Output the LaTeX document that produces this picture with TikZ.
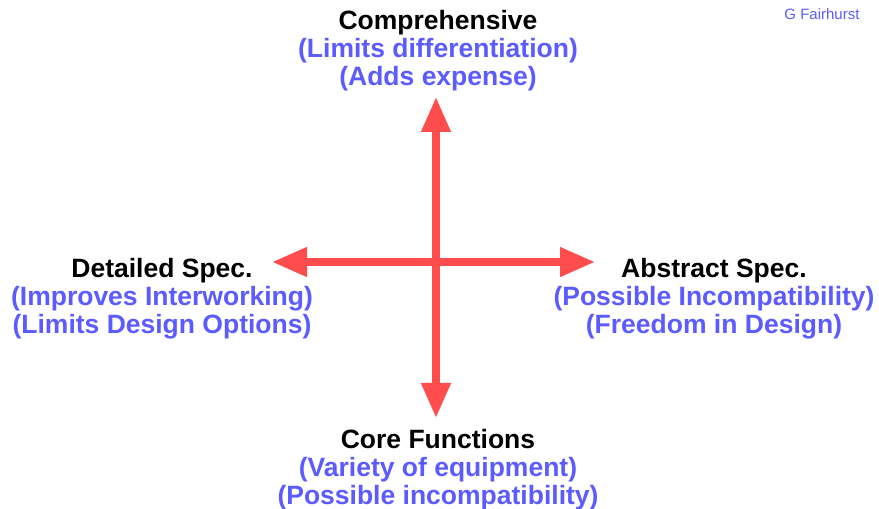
\documentclass[tikz,border=0pt]{standalone}
\usepackage{fontspec}
\setmainfont{Liberation Sans}
\usepackage{xcolor}
\definecolor{cArrow}{HTML}{FF4D4D}
\definecolor{cNote}{HTML}{5B5BFF}
\usetikzlibrary{positioning,arrows.meta}
\tikzset{
  node-label/.style={align=center,inner sep=0pt,
    font=\fontsize{26.5}{28}\selectfont\bfseries},
  node-credit/.style={inner sep=0pt,text=cNote,
    font=\fontsize{15}{18}\selectfont},
  arrow/.style={-{Triangle[length=35pt,width=28pt]},line width=7.5pt,draw=cArrow},
}
\newcommand{\note}[1]{\textcolor{cNote}{#1}}

\begin{document}
\begin{tikzpicture}[x=1pt,y=1pt]
  \useasboundingbox (0,0) rectangle (879,509);
  % axis ends
  \coordinate (mid) at (436,247);
  \coordinate (up) at (436,412);
  \coordinate (down) at (436,91);
  \coordinate (left) at (272,247);
  \coordinate (right) at (595,247);
  \draw[arrow] (mid) -- (up);
  \draw[arrow] (mid) -- (down);
  \draw[arrow] (mid) -- (left);
  \draw[arrow] (mid) -- (right);
  % quadrant labels
  \node[node-label] (comp) at (438,458)
    {Comprehensive\\\note{(Limits differentiation)}\\\note{(Adds expense)}};
  \node[node-label] (detail) at (162,210)
    {Detailed Spec.\\\note{(Improves Interworking)}\\\note{(Limits Design Options)}};
  \node[node-label] (abstract) at (714,210)
    {Abstract Spec.\\\note{(Possible Incompatibility)}\\\note{(Freedom in Design)}};
  \node[node-label] (core) at (438,39)
    {Core Functions\\\note{(Variety of equipment)}\\\note{(Possible incompatibility)}};
  \node[node-credit] (credit) at (822,495) {G Fairhurst};
\end{tikzpicture}
\end{document}
